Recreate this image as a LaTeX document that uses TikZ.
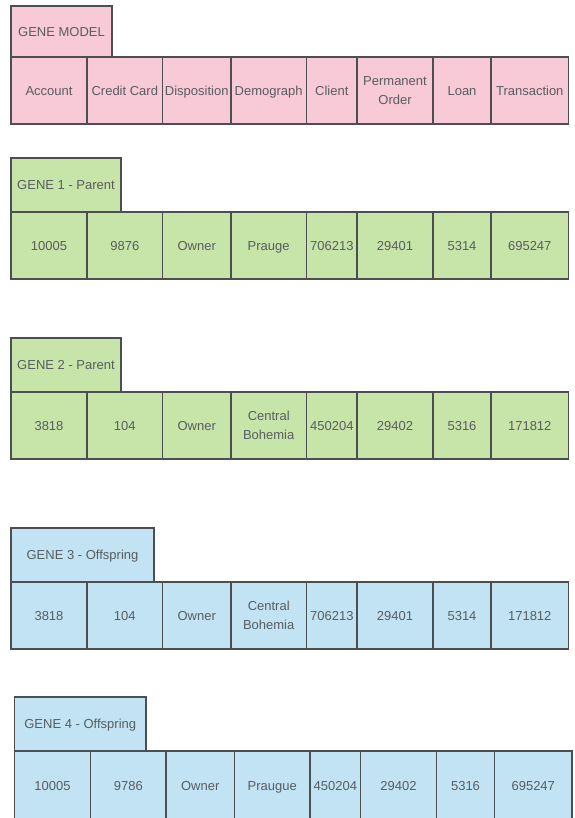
\documentclass[tikz,border=0pt]{standalone}
\usepackage{fontspec}
\setmainfont{Liberation Sans}
\usepackage{xcolor}
\usetikzlibrary{positioning}

\definecolor{pinkfill}{HTML}{F8C9D6}
\definecolor{greenfill}{HTML}{C7E4A9}
\definecolor{bluefill}{HTML}{C1E3F4}
\definecolor{edge}{HTML}{4B4F51}
\definecolor{txt}{HTML}{585D60}

\begin{document}
\begin{tikzpicture}[
  x=1pt, y=-1pt,
  font=\fontsize{13}{19}\selectfont,
  cell/.style={rectangle, draw=edge, line width=1.4pt, text=txt, align=center,
               inner sep=1pt, outer sep=0pt, minimum height=67pt,
               text height=9.3pt, text depth=0pt},
  twoline/.style={text height=, text depth=},
  head/.style={cell, minimum height=54pt},
  model/.style={fill=pinkfill},
  parent/.style={fill=greenfill},
  offspring/.style={fill=bluefill},
  accw/.style={minimum width=76pt},
  cardw/.style={minimum width=75.6pt},
  dispw/.style={minimum width=68.2pt},
  demow/.style={minimum width=75.8pt},
  cliw/.style={minimum width=50.4pt},
  permw/.style={minimum width=76pt},
  loanw/.style={minimum width=58pt},
  transw/.style={minimum width=77.5pt}
]
\useasboundingbox (0,0) rectangle (574,818);

% gene model
\node[cell, model, accw, anchor=north west] (m1) at (11,57) {Account};
\node[cell, model, cardw,  right=0pt of m1] (m2) {Credit Card};
\node[cell, model, dispw,  right=0pt of m2] (m3) {Disposition};
\node[cell, model, demow,  right=0pt of m3] (m4) {Demograph};
\node[cell, model, cliw,   right=0pt of m4] (m5) {Client};
\node[cell, model, permw, twoline, right=0pt of m5] (m6) {Permanent\\Order};
\node[cell, model, loanw,  right=0pt of m6] (m7) {Loan};
\node[cell, model, transw, right=0pt of m7] (m8) {Transaction};
\node[head, model, minimum width=101pt, minimum height=51pt, above right=0pt of m1.north west] (mhead) {GENE MODEL};

% gene 1
\node[cell, parent, accw, anchor=north west] (a1) at (11,212) {10005};
\node[cell, parent, cardw,  right=0pt of a1] (a2) {9876};
\node[cell, parent, dispw,  right=0pt of a2] (a3) {Owner};
\node[cell, parent, demow,  right=0pt of a3] (a4) {Prauge};
\node[cell, parent, cliw,   right=0pt of a4] (a5) {706213};
\node[cell, parent, permw,  right=0pt of a5] (a6) {29401};
\node[cell, parent, loanw,  right=0pt of a6] (a7) {5314};
\node[cell, parent, transw, right=0pt of a7] (a8) {695247};
\node[head, parent, minimum width=110pt, above right=0pt of a1.north west] (ahead) {GENE 1 - Parent};

% gene 2
\node[cell, parent, accw, anchor=north west] (b1) at (11,392) {3818};
\node[cell, parent, cardw,  right=0pt of b1] (b2) {104};
\node[cell, parent, dispw,  right=0pt of b2] (b3) {Owner};
\node[cell, parent, demow, twoline, right=0pt of b3] (b4) {Central\\Bohemia};
\node[cell, parent, cliw,   right=0pt of b4] (b5) {450204};
\node[cell, parent, permw,  right=0pt of b5] (b6) {29402};
\node[cell, parent, loanw,  right=0pt of b6] (b7) {5316};
\node[cell, parent, transw, right=0pt of b7] (b8) {171812};
\node[head, parent, minimum width=110pt, above right=0pt of b1.north west] (bhead) {GENE 2 - Parent};

% gene 3
\node[cell, offspring, accw, anchor=north west] (c1) at (11,582) {3818};
\node[cell, offspring, cardw,  right=0pt of c1] (c2) {104};
\node[cell, offspring, dispw,  right=0pt of c2] (c3) {Owner};
\node[cell, offspring, demow, twoline, right=0pt of c3] (c4) {Central\\Bohemia};
\node[cell, offspring, cliw,   right=0pt of c4] (c5) {706213};
\node[cell, offspring, permw,  right=0pt of c5] (c6) {29401};
\node[cell, offspring, loanw,  right=0pt of c6] (c7) {5314};
\node[cell, offspring, transw, right=0pt of c7] (c8) {171812};
\node[head, offspring, minimum width=143pt, above right=0pt of c1.north west] (chead) {GENE 3 - Offspring};

% gene 4
\node[cell, offspring, accw, minimum height=69pt, anchor=north west] (d1) at (14.5,751) {10005};
\node[cell, offspring, cardw,  minimum height=69pt, right=0pt of d1] (d2) {9786};
\node[cell, offspring, dispw,  minimum height=69pt, right=0pt of d2] (d3) {Owner};
\node[cell, offspring, demow,  minimum height=69pt, right=0pt of d3] (d4) {Praugue};
\node[cell, offspring, cliw,   minimum height=69pt, right=0pt of d4] (d5) {450204};
\node[cell, offspring, permw,  minimum height=69pt, right=0pt of d5] (d6) {29402};
\node[cell, offspring, loanw,  minimum height=69pt, right=0pt of d6] (d7) {5316};
\node[cell, offspring, transw, minimum height=69pt, right=0pt of d7] (d8) {695247};
\node[head, offspring, minimum width=131.5pt, above right=0pt of d1.north west] (dhead) {GENE 4 - Offspring};
\end{tikzpicture}
\end{document}
